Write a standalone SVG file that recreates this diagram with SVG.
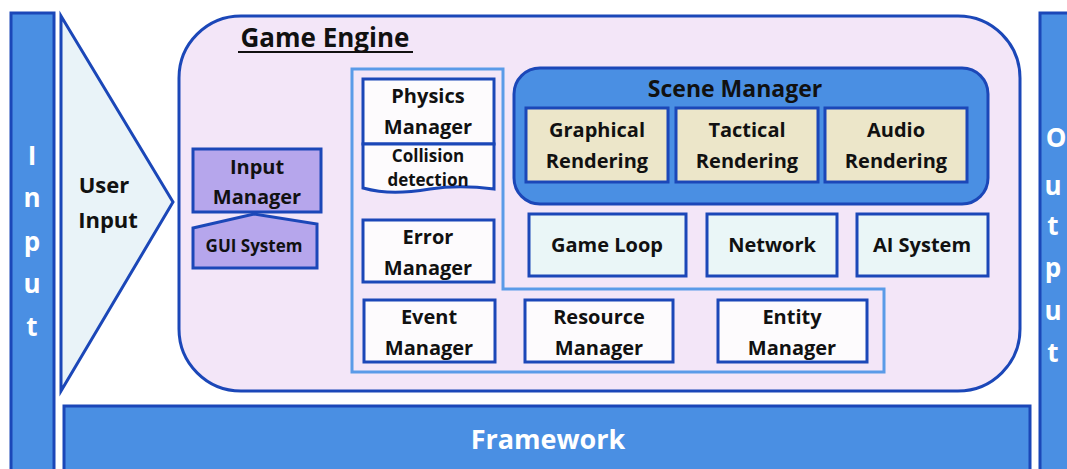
<svg xmlns="http://www.w3.org/2000/svg" width="1067" height="469" viewBox="0 0 1067 469">
<style>
text{font-family:"Open Sans","Liberation Sans",sans-serif;font-weight:bold;fill:#111;text-anchor:middle}
.bar{fill:#4a8fe3;stroke:#1b47b8;stroke-width:3}
.w{fill:#fff}
.box{fill:#fdfbfd;stroke:#1b47b8;stroke-width:3}
.rend{fill:#ece6c9;stroke:#1b47b8;stroke-width:3}
.cyan{fill:#eaf6f7;stroke:#1b47b8;stroke-width:3}
.purp{fill:#b6a6ec;stroke:#1b47b8;stroke-width:3}
.t{font-size:20px}
.s{font-size:17px}
.big{font-size:26px}
</style>
<rect width="1067" height="469" fill="#fff"/>
<g id="input-bar">
<rect class="bar" x="11" y="13" width="43" height="470"/>
<text class="w big" x="32" y="165">I</text>
<text class="w big" x="32" y="207">n</text>
<text class="w big" x="32" y="251">p</text>
<text class="w big" x="32" y="293">u</text>
<text class="w big" x="32" y="336">t</text>
</g>
<g id="output-bar">
<rect class="bar" x="1040" y="13" width="40" height="470"/>
<text class="w big" x="1056" y="147">O</text>
<text class="w big" x="1053" y="195">u</text>
<text class="w big" x="1053" y="235">t</text>
<text class="w big" x="1053" y="277">p</text>
<text class="w big" x="1053" y="320">u</text>
<text class="w big" x="1053" y="362">t</text>
</g>
<g id="user-input">
<polygon points="61,16 173,202 61,391" fill="#e9f3f8" stroke="#1b47b8" stroke-width="3"/>
<text class="t" x="104" y="193" style="font-size:22px">User</text>
<text class="t" x="108" y="228" style="font-size:22px">Input</text>
</g>
<g id="game-engine">
<rect x="179" y="16" width="841" height="375" rx="62" fill="#f3e6f8" stroke="#1b47b8" stroke-width="3"/>
<text class="big" x="325" y="47">Game Engine</text>
<line x1="238" y1="52" x2="413" y2="52" stroke="#111" stroke-width="2"/>
</g>
<g id="framework">
<rect class="bar" x="64" y="406" width="966" height="70"/>
<text class="w" x="548" y="449" style="font-size:27px">Framework</text>
</g>
<g id="core-container">
<polygon points="352,69 503,69 503,289 884,289 884,372 352,372" fill="none" stroke="#5a9be8" stroke-width="3"/>
</g>
<g id="input-manager">
<rect class="purp" x="193" y="149" width="128" height="63"/>
<text class="t" x="257" y="174">Input</text>
<text class="t" x="257" y="204">Manager</text>
</g>
<g id="gui-system">
<polygon class="purp" points="193,228 254,214 317,224 317,268 193,268"/>
<text class="s" x="254" y="252">GUI System</text>
</g>
<g id="physics-manager">
<rect class="box" x="363" y="79" width="131" height="65"/>
<text class="t" x="428" y="103">Physics</text>
<text class="t" x="428" y="134">Manager</text>
</g>
<g id="collision-detection">
<path class="box" d="M363,144 H494 V189 C470,186 450,186 430,189 C405,193 385,194 363,188 Z"/>
<text class="s" x="428" y="162">Collision</text>
<text class="s" x="428" y="186">detection</text>
</g>
<g id="error-manager">
<rect class="box" x="363" y="220" width="131" height="62"/>
<text class="t" x="428" y="244">Error</text>
<text class="t" x="428" y="275">Manager</text>
</g>
<g id="event-manager">
<rect class="box" x="364" y="300" width="131" height="62"/>
<text class="t" x="429" y="324">Event</text>
<text class="t" x="429" y="355">Manager</text>
</g>
<g id="resource-manager">
<rect class="box" x="525" y="300" width="148" height="62"/>
<text class="t" x="599" y="324">Resource</text>
<text class="t" x="599" y="355">Manager</text>
</g>
<g id="entity-manager">
<rect class="box" x="718" y="300" width="149" height="62"/>
<text class="t" x="792" y="324">Entity</text>
<text class="t" x="792" y="355">Manager</text>
</g>
<g id="scene-manager">
<rect x="514" y="68" width="474" height="136" rx="26" fill="#4a8fe3" stroke="#1b47b8" stroke-width="3"/>
<text class="t" x="735" y="97" style="font-size:23px">Scene Manager</text>
</g>
<g id="graphical-rendering">
<rect class="rend" x="526" y="108" width="142" height="74"/>
<text class="t" x="597" y="137">Graphical</text>
<text class="t" x="597" y="168">Rendering</text>
</g>
<g id="tactical-rendering">
<rect class="rend" x="676" y="108" width="142" height="74"/>
<text class="t" x="747" y="137">Tactical</text>
<text class="t" x="747" y="168">Rendering</text>
</g>
<g id="audio-rendering">
<rect class="rend" x="825" y="108" width="142" height="74"/>
<text class="t" x="896" y="137">Audio</text>
<text class="t" x="896" y="168">Rendering</text>
</g>
<g id="game-loop">
<rect class="cyan" x="529" y="214" width="157" height="62"/>
<text class="t" x="607" y="252">Game Loop</text>
</g>
<g id="network">
<rect class="cyan" x="707" y="214" width="130" height="62"/>
<text class="t" x="772" y="252">Network</text>
</g>
<g id="ai-system">
<rect class="cyan" x="857" y="214" width="131" height="62"/>
<text class="t" x="922" y="252">AI System</text>
</g>
<g id="connectors"></g>
</svg>
